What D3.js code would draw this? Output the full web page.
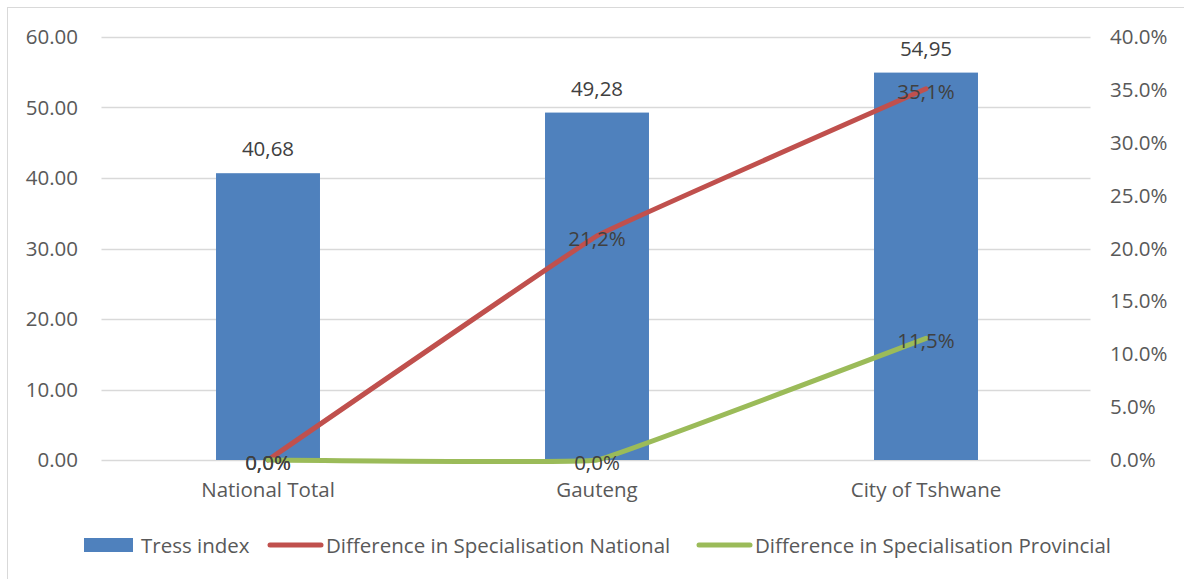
<!DOCTYPE html>
<html>
<head>
<meta charset="utf-8">
<script src="https://d3js.org/d3.v7.min.js"></script>
<style>
  html, body { margin: 0; padding: 0; background: #fff; }
  svg { display: block; }
  text { font-family: "Open Sans", "Noto Sans", sans-serif; }
</style>
</head>
<body>
<svg id="chart" width="1184" height="579"></svg>
<script>
// Regions compared
const categories = ["National Total", "Gauteng", "City of Tshwane"];
// Tress index per region (left axis)
const tressIndex = [40.68, 49.28, 54.95];
// Difference in specialisation, as fractions (right axis)
const diffNational = [0.0, 0.212, 0.351];
const diffProvincial = [0.0, 0.0, 0.115];
// Axis ticks
const leftTicks = [0, 10, 20, 30, 40, 50, 60];
const rightTicks = [0, 0.05, 0.10, 0.15, 0.20, 0.25, 0.30, 0.35, 0.40];
// Legend entries
const seriesNames = ["Tress index", "Difference in Specialisation National", "Difference in Specialisation Provincial"];

const colors = { bar: "#4f81bd", national: "#c0504d", provincial: "#9bbb59" };
const axisText = "#595959";
const labelText = "#404040";
const fontSize = "20.5px";

const svg = d3.select("#chart");
const W = 1184, H = 579;
const plot = { left: 103.5, right: 1090.5, top: 37, bottom: 460 };

// Outer chart frame
svg.append("rect")
  .attr("x", 7.5).attr("y", 7.5)
  .attr("width", W + 20).attr("height", H + 20)
  .attr("fill", "#fff").attr("stroke", "#d9d9d9").attr("stroke-width", 1);

const x = d3.scaleBand()
  .domain(categories)
  .range([plot.left, plot.right])
  .paddingInner(0.684)
  .paddingOuter(0.342);
const cx = d => x(d) + x.bandwidth() / 2;

const yL = d3.scaleLinear().domain([0, 60]).range([plot.bottom, plot.top]);
const yR = d3.scaleLinear().domain([0, 0.40]).range([plot.bottom, plot.top]);

// Horizontal gridlines
svg.append("g")
  .selectAll("line")
  .data(leftTicks)
  .join("line")
  .attr("x1", plot.left - 2).attr("x2", plot.right)
  .attr("y1", d => Math.round(yL(d)) + 0.5)
  .attr("y2", d => Math.round(yL(d)) + 0.5)
  .attr("stroke", "#d9d9d9").attr("stroke-width", 1.5);

function styleAxisText(g) {
  g.selectAll("text")
    .attr("fill", axisText).style("font-size", fontSize)
    .style("font-family", "'Open Sans', sans-serif");
}

// Left axis
const leftAxis = svg.append("g")
  .attr("transform", `translate(${78},0)`)
  .call(d3.axisLeft(yL).tickValues(leftTicks).tickFormat(d3.format(".2f")).tickSize(0).tickPadding(0));
leftAxis.select(".domain").remove();
styleAxisText(leftAxis);

// Right axis
const rightAxis = svg.append("g")
  .attr("transform", `translate(${1110},0)`)
  .call(d3.axisRight(yR).tickValues(rightTicks).tickFormat(d3.format(".1%")).tickSize(0).tickPadding(0));
rightAxis.select(".domain").remove();
styleAxisText(rightAxis);

// Category axis
const bottomAxis = svg.append("g")
  .attr("transform", `translate(0,${plot.bottom})`)
  .call(d3.axisBottom(x).tickSize(0).tickPadding(22));
bottomAxis.select(".domain").remove();
styleAxisText(bottomAxis);

// Bars
svg.append("g")
  .selectAll("rect")
  .data(tressIndex)
  .join("rect")
  .attr("x", (d, i) => x(categories[i]))
  .attr("width", x.bandwidth())
  .attr("y", d => yL(d))
  .attr("height", d => yL(0) - yL(d))
  .attr("fill", colors.bar);

const comma = f => s => f(s).replace(".", ",");
const fmtBar = comma(d3.format(".2f"));
const fmtPct = comma(d3.format(".1%"));

// Bar value labels
svg.append("g")
  .selectAll("text")
  .data(tressIndex)
  .join("text")
  .attr("x", (d, i) => cx(categories[i]))
  .attr("y", d => yL(d) - 25)
  .attr("text-anchor", "middle")
  .attr("dominant-baseline", "central")
  .attr("fill", labelText)
  .style("font-size", fontSize)
  .text(fmtBar);

// Lines
const line = d3.line()
  .x((d, i) => cx(categories[i]))
  .y(d => yR(d))
  .curve(d3.curveCardinal.tension(0.85));

const seriesLines = [
  { values: diffNational, color: colors.national },
  { values: diffProvincial, color: colors.provincial }
];

seriesLines.forEach(s => {
  svg.append("path")
    .datum(s.values)
    .attr("d", line)
    .attr("fill", "none")
    .attr("stroke", s.color)
    .attr("stroke-width", 5)
    .attr("stroke-linecap", "round")
    .attr("stroke-linejoin", "round");
});

// Line value labels, centred on each point
seriesLines.forEach(s => {
  svg.append("g")
    .selectAll("text")
    .data(s.values)
    .join("text")
    .attr("x", (d, i) => cx(categories[i]))
    .attr("y", d => yR(d) + 2)
    .attr("text-anchor", "middle")
    .attr("dominant-baseline", "central")
    .attr("fill", labelText)
    .style("font-size", fontSize)
    .text(fmtPct);
});

// Legend
const legend = svg.append("g").attr("transform", "translate(0,545)");
const legendItems = [
  { name: seriesNames[0], type: "bar", color: colors.bar, x: 84 },
  { name: seriesNames[1], type: "line", color: colors.national, x: 270 },
  { name: seriesNames[2], type: "line", color: colors.provincial, x: 699 }
];
legendItems.forEach(it => {
  if (it.type === "bar") {
    legend.append("rect")
      .attr("x", it.x).attr("y", -7).attr("width", 49).attr("height", 14)
      .attr("fill", it.color);
  } else {
    legend.append("line")
      .attr("x1", it.x).attr("x2", it.x + 51)
      .attr("y1", 0).attr("y2", 0)
      .attr("stroke", it.color).attr("stroke-width", 5)
      .attr("stroke-linecap", "round");
  }
  legend.append("text")
    .attr("x", it.type === "bar" ? it.x + 57 : it.x + 56)
    .attr("y", 0)
    .attr("dominant-baseline", "central")
    .attr("fill", axisText)
    .style("font-size", fontSize)
    .text(it.name);
});
</script>
</body>
</html>
